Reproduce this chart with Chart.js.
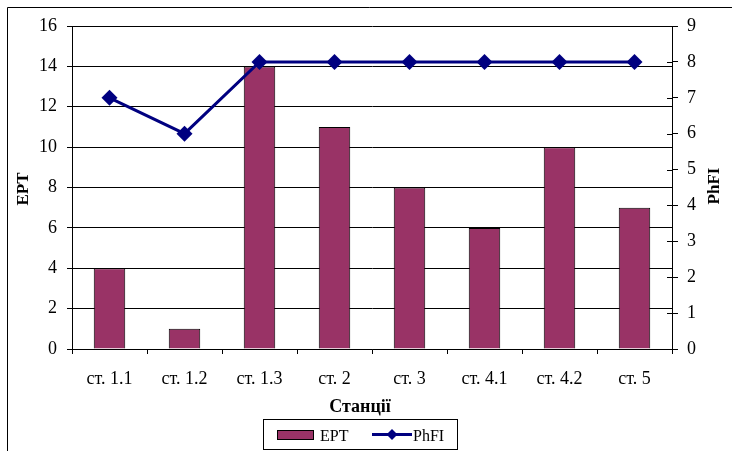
<!DOCTYPE html>
<html>
<head>
<meta charset="utf-8">
<style>
  html, body { margin: 0; padding: 0; background: #fff; }
  #wrap { width: 732px; height: 451px; position: relative; }
</style>
<script src="https://cdn.jsdelivr.net/npm/chart.js@4/dist/chart.umd.min.js"></script>
</head>
<body>
<div id="wrap"><canvas id="c" width="732" height="451"></canvas></div>
<script>
// Stations and the two indices measured at each
const stations = ['ст. 1.1', 'ст. 1.2', 'ст. 1.3', 'ст. 2', 'ст. 3', 'ст. 4.1', 'ст. 4.2', 'ст. 5'];
const eptValues = [4, 1, 14, 11, 8, 6, 10, 7];
const phfiValues = [7, 6, 8, 8, 8, 8, 8, 8];

const xTitle = 'Станції';
const leftTitle = 'EPT';
const rightTitle = 'PhFI';

const BAR_COLOR = '#993366';
const LINE_COLOR = '#000080';
const SERIF = '"Liberation Serif", "Times New Roman", serif';

// Outer frame, axis titles, inner half of right-axis ticks, and the boxed legend
const decorations = {
  id: 'decorations',
  afterDraw(chart) {
    const ctx = chart.ctx;
    const area = chart.chartArea;
    const yR = chart.scales.yR;
    const barSet = chart.data.datasets.find(d => d.type === 'bar');
    const lineSet = chart.data.datasets.find(d => d.type === 'line');
    ctx.save();
    ctx.strokeStyle = '#000';
    ctx.lineWidth = 1;

    // frame
    ctx.beginPath();
    ctx.moveTo(7.5, 451);
    ctx.lineTo(7.5, 7.5);
    ctx.lineTo(732, 7.5);
    ctx.stroke();

    // right-axis ticks crossing into the plot
    ctx.beginPath();
    yR.ticks.forEach(t => {
      const y = Math.round(yR.getPixelForValue(t.value)) + 0.5;
      ctx.moveTo(area.right - 5, y);
      ctx.lineTo(area.right, y);
    });
    ctx.stroke();

    // titles
    ctx.fillStyle = '#000';
    ctx.font = 'bold 18px ' + SERIF;
    ctx.textAlign = 'center';
    ctx.textBaseline = 'alphabetic';
    ctx.fillText(xTitle, 360, 412);

    ctx.font = 'bold 17px ' + SERIF;
    ctx.save();
    ctx.translate(28, 189);
    ctx.rotate(-Math.PI / 2);
    ctx.fillText(leftTitle, 0, 0);
    ctx.restore();
    ctx.save();
    ctx.translate(719, 186);
    ctx.rotate(-Math.PI / 2);
    ctx.fillText(rightTitle, 0, 0);
    ctx.restore();

    // legend
    ctx.strokeRect(263.5, 419.5, 194, 30);
    ctx.fillStyle = BAR_COLOR;
    ctx.fillRect(277.5, 430.5, 36, 9);
    ctx.strokeRect(277.5, 430.5, 36, 9);
    ctx.fillStyle = '#000';
    ctx.font = '16px ' + SERIF;
    ctx.textAlign = 'left';
    ctx.fillText(barSet.label, 320, 441);

    ctx.strokeStyle = LINE_COLOR;
    ctx.lineWidth = 3;
    ctx.beginPath();
    ctx.moveTo(372, 434.5);
    ctx.lineTo(412, 434.5);
    ctx.stroke();
    ctx.fillStyle = LINE_COLOR;
    ctx.beginPath();
    ctx.moveTo(392, 429);
    ctx.lineTo(397.5, 434.5);
    ctx.lineTo(392, 440);
    ctx.lineTo(386.5, 434.5);
    ctx.closePath();
    ctx.fill();
    ctx.fillStyle = '#000';
    ctx.fillText(lineSet.label, 413, 441);
    ctx.restore();
  }
};

new Chart(document.getElementById('c'), {
  data: {
    labels: stations,
    datasets: [
      {
        type: 'line',
        label: 'PhFI',
        data: phfiValues,
        yAxisID: 'yR',
        borderColor: LINE_COLOR,
        backgroundColor: LINE_COLOR,
        borderWidth: 3,
        pointStyle: 'rectRot',
        pointRadius: 8,
        pointBorderWidth: 0,
        pointBackgroundColor: LINE_COLOR,
        tension: 0,
        order: 0
      },
      {
        type: 'bar',
        label: 'EPT',
        data: eptValues,
        yAxisID: 'y',
        backgroundColor: BAR_COLOR,
        borderColor: '#000',
        borderWidth: 1,
        categoryPercentage: 1,
        barPercentage: 0.42,
        order: 1
      }
    ]
  },
  options: {
    responsive: false,
    animation: false,
    devicePixelRatio: 1,
    layout: { padding: { left: 0, right: 0, top: 26, bottom: 0 } },
    plugins: { legend: { display: false }, tooltip: { enabled: false } },
    scales: {
      x: {
        offset: true,
        grid: { offset: true, drawOnChartArea: false, color: '#000', tickLength: 5, tickColor: '#000' },
        border: { color: '#000' },
        ticks: { color: '#000', font: { family: SERIF, size: 18 }, padding: 14, maxRotation: 0 },
        afterFit(s) { s.height = 102; }
      },
      y: {
        position: 'left',
        min: 0, max: 16,
        ticks: { stepSize: 2, color: '#000', font: { family: SERIF, size: 18 }, padding: 10 },
        grid: { color: '#000', tickLength: 5, tickColor: '#000' },
        border: { color: '#000' },
        afterFit(s) { s.width = 72; }
      },
      yR: {
        position: 'right',
        min: 0, max: 9,
        ticks: { stepSize: 1, color: '#000', font: { family: SERIF, size: 18 }, padding: 9 },
        grid: { drawOnChartArea: false, tickLength: 6, color: '#000' },
        border: { color: '#000' },
        afterFit(s) { s.width = 60; }
      }
    }
  },
  plugins: [decorations]
});
</script>
</body>
</html>
